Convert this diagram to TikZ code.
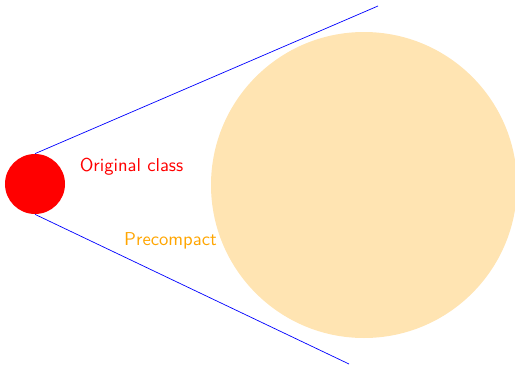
\documentclass[tikz,border=0pt]{standalone}
\usepackage{tikz}
\usetikzlibrary{positioning, calc}
\definecolor{ClassRed}{RGB}{255,0,0}
\definecolor{PreOrange}{RGB}{255,165,0}
\definecolor{ConeBlue}{RGB}{0,0,255}

\begin{document}
\begin{tikzpicture}[
        lbl/.style={font=\sffamily\fontsize{10.6pt}{13pt}\selectfont,inner sep=0pt}
      ]
        \useasboundingbox (0,0) rectangle (10.3,7.32);
        \node[circle,fill=PreOrange,fill opacity=0.3,minimum size=6.12cm,inner sep=0pt] (pre) at (7.28,3.62) {};
        \node[circle,fill=ClassRed,minimum size=1.2cm,inner sep=0pt] (orig) at (0.70,3.64) {};
        \coordinate (tipup) at (7.56,7.20);
        \coordinate (tipdown) at (6.98,0.04);
        \draw[ConeBlue] (orig.north)--(tipup);
        \draw[ConeBlue] (orig.south)--(tipdown);

        \node[lbl,text=ClassRed] (origlbl) at (2.63,3.98) {Original class};
        \node[lbl,text=PreOrange] (prelbl) at (3.41,2.51) {Precompact};
      \end{tikzpicture}
\end{document}
